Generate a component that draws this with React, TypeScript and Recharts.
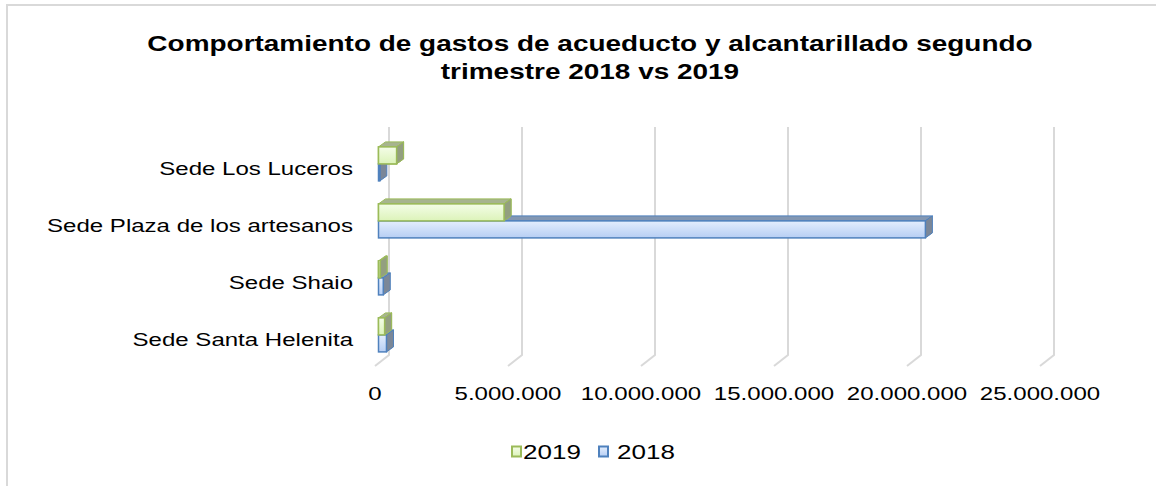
import React from 'react';
import { BarChart, Bar, XAxis, YAxis, CartesianGrid, Legend } from 'recharts';

// ---------- data ----------
const categories = [
  'Sede Los Luceros',
  'Sede Plaza de los artesanos',
  'Sede Shaio',
  'Sede Santa Helenita',
];
const values2019 = [680000, 4720000, 60000, 230000];
const values2018 = [50000, 20560000, 180000, 300000];
const xTicks = [0, 5000000, 10000000, 15000000, 20000000, 25000000];
const seriesNames = ['2019', '2018'];
const titleLines = [
  'Comportamiento de gastos de acueducto y alcantarillado segundo',
  'trimestre 2018 vs 2019',
];

const data = categories.map((name, i) => ({
  name,
  y2019: values2019[i],
  y2018: values2018[i],
}));

// ---------- styling ----------
const SX = 1.3; // horizontal stretch of the text in the reference
const FONT = '"Liberation Sans", Arial, Helvetica, sans-serif';
const DX = 7;
const DY = 5; // bar depth
const OX = 3.5;
const OY = -2.5; // bar front offset from the front plane
const GX = 14;
const GY = 11; // wall depth

type Col = { stroke: string; front: string; top: string; side: string; l1: string; l2: string };
const GREEN: Col = { stroke: '#9bbb59', front: 'url(#gGreen)', top: '#a7b48f', side: '#939f80', l1: '#f4fde8', l2: '#dcf3b9' };
const BLUE: Col = { stroke: '#4f81bd', front: 'url(#gBlue)', top: '#8397b2', side: '#7b8798', l1: '#e4eefd', l2: '#b6cef4' };
const COLS = [GREEN, BLUE];

const fmt = (v: number) => String(v).replace(/\B(?=(\d{3})+(?!\d))/g, '.');

function Box({ x, y, w, h, c, top = true }: { x: number; y: number; w: number; h: number; c: Col; top?: boolean }) {
  const fx = x + OX;
  const fy = y + OY;
  return (
    <g>
      {top && (
        <polygon
          points={`${fx},${fy} ${fx + DX},${fy - DY} ${fx + w + DX},${fy - DY} ${fx + w},${fy}`}
          fill={c.top}
          stroke={c.stroke}
          strokeWidth={1}
          strokeLinejoin="round"
        />
      )}
      <polygon
        points={`${fx + w},${fy} ${fx + w + DX},${fy - DY} ${fx + w + DX},${fy + h - DY} ${fx + w},${fy + h}`}
        fill={c.side}
        stroke={c.stroke}
        strokeWidth={1}
        strokeLinejoin="round"
      />
      <rect x={fx} y={fy} width={w} height={h} fill={c.front} stroke={c.stroke} strokeWidth={1.5} />
    </g>
  );
}

const GreenShape = (p: any) => <Box x={p.x} y={p.y} w={p.width} h={p.height} c={GREEN} />;

const BlueShape = (p: any) => {
  const { x, y, width, height, payload } = p;
  const k = payload.y2018 ? width / payload.y2018 : 0;
  const gw = payload.y2019 * k;
  return (
    <g>
      <Box x={x} y={y} w={width} h={height} c={BLUE} />
      {/* the 2019 bar stands in front of the 2018 bar's top face */}
      <Box x={x} y={y - height} w={gw} h={height} c={GREEN} top={false} />
    </g>
  );
};

const XTick = (p: any) => (
  <text
    transform={`translate(${p.x},${p.y}) scale(${SX},1)`}
    textAnchor="middle"
    dy="0.71em"
    fontSize={18.5}
    fontFamily={FONT}
    fill="#000"
  >
    {fmt(p.payload.value)}
  </text>
);

const YTick = (p: any) => (
  <text
    transform={`translate(${p.x},${p.y + 2}) scale(${SX},1)`}
    textAnchor="end"
    dy="0.355em"
    fontSize={18.5}
    fontFamily={FONT}
    fill="#000"
  >
    {p.payload.value}
  </text>
);

const gridLine = (p: any) => {
  const { x1, y1, y2, key } = p;
  return (
    <polyline
      key={key}
      points={`${x1 + GX},${y1 - GY} ${x1 + GX},${y2 - GY} ${x1},${y2}`}
      fill="none"
      stroke="#d9d9d9"
      strokeWidth={2}
    />
  );
};

const legendPos = [
  { sq: 511, tx: 523 },
  { sq: 598, tx: 617 },
];

const LegendContent = () => (
  <div style={{ position: 'relative', width: 1156, height: 30, fontFamily: FONT }}>
    <svg width={1156} height={30} style={{ position: 'absolute', left: 0, top: 0 }}>
      <defs>
        {seriesNames.map((n, i) => (
          <linearGradient key={n} id={`lg${i}`} x1="0" y1="0" x2="0" y2="1">
            <stop offset="0" stopColor={COLS[i].l1} />
            <stop offset="1" stopColor={COLS[i].l2} />
          </linearGradient>
        ))}
      </defs>
      {seriesNames.map((n, i) => (
        <rect
          key={n}
          x={legendPos[i].sq + 1}
          y={9.5}
          width={9}
          height={10}
          fill={`url(#lg${i})`}
          stroke={COLS[i].stroke}
          strokeWidth={2}
        />
      ))}
    </svg>
    {seriesNames.map((n, i) => (
      <span
        key={n}
        style={{
          position: 'absolute',
          left: legendPos[i].tx,
          top: 5,
          fontSize: 20,
          lineHeight: '20px',
          whiteSpace: 'nowrap',
          color: '#000',
          transform: `scaleX(${SX})`,
          transformOrigin: '0 0',
        }}
      >
        {n}
      </span>
    ))}
  </div>
);

export default function App() {
  return (
    <div
      style={{
        position: 'absolute',
        left: 0,
        top: 0,
        width: 1156,
        height: 486,
        overflow: 'hidden',
        background: '#fff',
        fontFamily: FONT,
      }}
    >
      <div
        style={{
          position: 'absolute',
          left: 6,
          top: 4,
          width: 1400,
          height: 800,
          border: '2px solid #d9d9d9',
        }}
      />
      <div
        style={{
          position: 'absolute',
          left: 190,
          top: 30,
          width: 800,
          textAlign: 'center',
          fontWeight: 'bold',
          fontSize: 21.5,
          lineHeight: '28px',
          whiteSpace: 'nowrap',
          color: '#000',
          transform: `scaleX(${SX})`,
          transformOrigin: '400px 0',
        }}
      >
        {titleLines[0]}
        <br />
        {titleLines[1]}
      </div>
      <div style={{ position: 'absolute', left: 0, top: 0 }}>
        <BarChart
          width={1156}
          height={486}
          data={data}
          layout="vertical"
          margin={{ top: 138, right: 116, bottom: 90, left: 0 }}
          barGap={0}
          barCategoryGap="20%"
        >
          <defs>
            <linearGradient id="gGreen" x1="0" y1="0" x2="0" y2="1">
              <stop offset="0" stopColor={GREEN.l1} />
              <stop offset="1" stopColor={GREEN.l2} />
            </linearGradient>
            <linearGradient id="gBlue" x1="0" y1="0" x2="0" y2="1">
              <stop offset="0" stopColor={BLUE.l1} />
              <stop offset="1" stopColor={BLUE.l2} />
            </linearGradient>
          </defs>
          <CartesianGrid horizontal={false} vertical={gridLine} />
          <XAxis
            type="number"
            domain={[0, 25000000]}
            ticks={xTicks}
            interval={0}
            axisLine={false}
            tickLine={false}
            tickSize={0}
            tickMargin={21}
            height={30}
            tick={<XTick />}
          />
          <YAxis
            type="category"
            dataKey="name"
            width={375}
            interval={0}
            axisLine={false}
            tickLine={false}
            tickSize={0}
            tickMargin={22}
            tick={<YTick />}
          />
          <Legend
            layout="horizontal"
            verticalAlign="middle"
            align="center"
            wrapperStyle={{ position: 'absolute', top: 437, left: 0, width: 1156, height: 30 }}
            content={<LegendContent />}
          />
          <Bar dataKey="y2019" name={seriesNames[0]} isAnimationActive={false} shape={GreenShape} />
          <Bar dataKey="y2018" name={seriesNames[1]} isAnimationActive={false} shape={BlueShape} />
        </BarChart>
      </div>
    </div>
  );
}
